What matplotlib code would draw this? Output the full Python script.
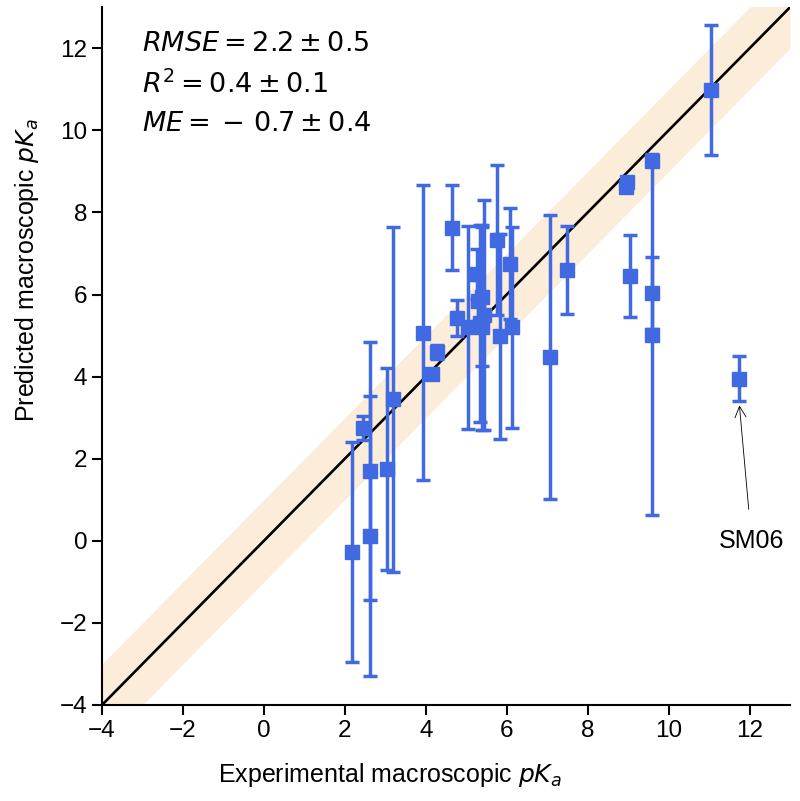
import matplotlib
matplotlib.use("Agg")
import matplotlib.pyplot as plt
import numpy as np

# Experimental pKa values
exp_pka = [2.18, 2.45, 2.62, 2.62, 3.05, 3.18, 3.93, 4.15, 4.28, 4.65, 4.77,
           5.05, 5.27, 5.30, 5.35, 5.38, 5.40, 5.45, 5.76, 5.83, 6.08, 6.13,
           7.07, 7.49, 8.95, 8.98, 9.05, 9.58, 9.60, 9.60, 11.05, 11.75]
# Predicted pKa values
pred_pka = [-0.27, 2.75, 1.70, 0.12, 1.75, 3.45, 5.07, 4.07, 4.60, 7.63, 5.43,
            5.20, 6.50, 5.85, 5.30, 5.20, 5.95, 5.50, 7.33, 4.98, 6.75, 5.20,
            4.48, 6.60, 8.62, 8.75, 6.45, 9.26, 6.04, 5.02, 10.98, 3.95]
# Prediction uncertainty (SEM)
pred_err = [2.68, 0.30, 3.15, 3.41, 2.45, 4.20, 3.60, 0.05, 0.18, 1.03, 0.44,
            2.48, 0.60, 0.50, 2.40, 2.50, 1.70, 2.80, 1.83, 2.50, 1.35, 2.44,
            3.47, 1.07, 0.05, 0.05, 0.99, 0.05, 0.88, 4.40, 1.58, 0.55]

stats_lines = [r"$RMSE = 2.2 \pm 0.5$",
               r"$R^2 = 0.4 \pm 0.1$",
               r"$ME = {} -\, 0.7 \pm 0.4$"]
annot_label = "SM06"
annot_xy = (11.75, 3.3)
annot_text_xy = (12.05, 0.0)

lim = (-4, 13)
ticks = [-4, -2, 0, 2, 4, 6, 8, 10, 12]

plt.rcParams['font.family'] = ['Liberation Sans', 'DejaVu Sans']
plt.rcParams['mathtext.fontset'] = 'dejavusans'

fig = plt.figure(figsize=(8, 8.01), dpi=100)
ax = fig.add_axes([0.1275, 0.1199, 0.86, 0.871])

line_x = np.array(lim, dtype=float)
ax.fill_between(line_x, line_x - 1, line_x + 1, color='#fbedd9', lw=0, zorder=1)
ax.plot(line_x, line_x, color='black', lw=1.9, zorder=2)

ax.errorbar(exp_pka, pred_pka, yerr=pred_err, fmt='s', color='#4169e1',
            ecolor='#4169e1', markersize=10, elinewidth=2.5, capsize=5,
            capthick=2.5, zorder=3)

ax.annotate(annot_label, xy=annot_xy, xytext=annot_text_xy,
            ha='center', va='center', fontsize=18,
            arrowprops=dict(arrowstyle='->', color='black', lw=0.6,
                            shrinkA=12, shrinkB=0, mutation_scale=20))

for i, s in enumerate(stats_lines):
    ax.text(0.058, 0.947 - i * 0.0575, s, transform=ax.transAxes,
            fontsize=19.5, ha='left', va='center')

ax.set_xlim(lim)
ax.set_ylim(lim)
ax.set_xticks(ticks)
ax.set_yticks(ticks)
ax.tick_params(labelsize=17.5, length=7, width=1.5, direction='out')
ax.set_xticklabels([f"\u2212{abs(t)}" if t < 0 else str(t) for t in ticks])
ax.set_yticklabels([f"\u2212{abs(t)}" if t < 0 else str(t) for t in ticks])
for side in ['top', 'right']:
    ax.spines[side].set_visible(False)
for side in ['left', 'bottom']:
    ax.spines[side].set_linewidth(1.5)

ax.set_xlabel(r"Experimental macroscopic $pK_a$", fontsize=18)
ax.set_ylabel(r"Predicted macroscopic $pK_a$", fontsize=18)
ax.xaxis.set_label_coords(0.419, -0.08)
ax.yaxis.set_label_coords(-0.088, 0.623)

fig.savefig("out.png", dpi=100)
